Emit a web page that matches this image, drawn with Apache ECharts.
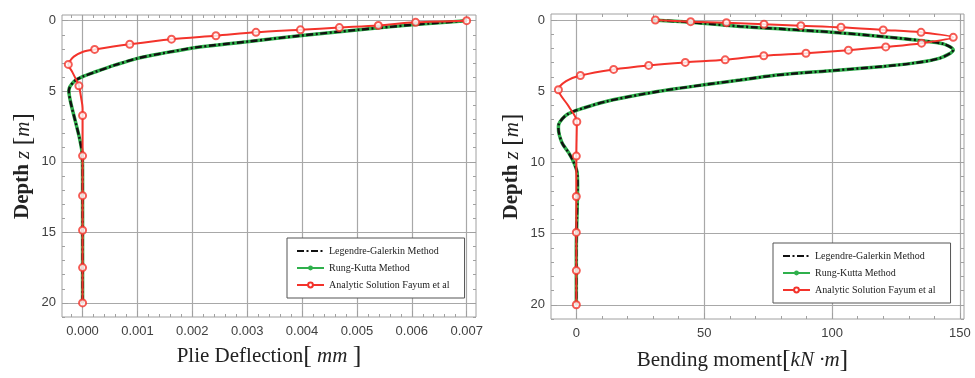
<!DOCTYPE html>
<html>
<head>
<meta charset="utf-8">
<script src="https://cdn.jsdelivr.net/npm/echarts@6/dist/echarts.min.js"></script>
<style>
  html, body { margin: 0; padding: 0; background: #fff; }
  #chart { width: 975px; height: 378px; }
</style>
</head>
<body>
<div id="chart"></div>
<script>
// ---- left panel: pile deflection vs depth ----
// [deflection (mm), depth z (m)]
const defLG = [[0.007,0],[0.006,0.3],[0.005,0.66],[0.004,1.05],[0.003,1.49],[0.0021,1.88],[0.00145,2.32],[0.001,2.67],[0.0006,3.14],[0.00024,3.62],[0,3.97],[-0.00016,4.33],[-0.00025,4.95],[-0.00022,5.74],[-0.00013,7.16],[-0.000055,8.35],[-0.000006,9.5],[0,11],[0,15],[0,20]];
const defRK = [[0.007,0],[0.006,0.3],[0.005,0.66],[0.004,1.05],[0.003,1.49],[0.0021,1.88],[0.00145,2.32],[0.001,2.67],[0.0006,3.14],[0.00024,3.62],[0,3.97],[-0.00016,4.33],[-0.00025,4.95],[-0.00022,5.74],[-0.00013,7.16],[-0.000055,8.35],[-0.000006,9.5],[0,11],[0,15],[0,20]];
const defFayum = [[0.007,0],[0.00607,0.12],[0.00539,0.34],[0.00468,0.49],[0.00397,0.65],[0.00316,0.83],[0.00243,1.07],[0.00162,1.31],[0.00086,1.67],[0.00022,2.04],[0.00001,2.2],[-0.00016,2.55],[-0.00024,2.91],[-0.00026,3.1],[-0.00019,3.62],[-0.000115,4.2],[-0.000067,4.62],[-0.000025,5.5],[0,6.2],[0,6.72],[0,20]];
const defFayumMarks = [[0.007,0],[0.00607,0.12],[0.00539,0.34],[0.00468,0.49],[0.00397,0.65],[0.00316,0.83],[0.00243,1.07],[0.00162,1.31],[0.00086,1.67],[0.00022,2.04],[-0.00026,3.1],[-0.000067,4.62],[0,6.72],[0,9.58],[0,12.4],[0,14.85],[0,17.5],[0,20]];

// ---- right panel: bending moment vs depth ----
// [moment (kN·m), depth z (m)]
const momLG = [[30,0],[44.5,0.16],[64,0.45],[82,0.65],[100,0.86],[120,1.17],[134.8,1.45],[143.5,1.68],[147.4,2.1],[142.2,2.68],[131.8,3.03],[120,3.26],[101,3.54],[77,3.9],[64,4.22],[50,4.55],[38,4.85],[25,5.24],[12,5.71],[2.9,6.18],[-3.6,6.64],[-6.9,7.34],[-7,7.6],[-5.6,8.62],[-3,9.32],[-1,10],[0.3,10.7],[0.5,11.65],[0.26,13.75],[0,16],[0,20]];
const momRK = [[30,0],[44.5,0.16],[64,0.45],[82,0.65],[100,0.86],[120,1.17],[134.8,1.45],[143.5,1.68],[147.4,2.1],[142.2,2.68],[131.8,3.03],[120,3.26],[101,3.54],[77,3.9],[64,4.22],[50,4.55],[38,4.85],[25,5.24],[12,5.71],[2.9,6.18],[-3.6,6.64],[-6.9,7.34],[-7,7.6],[-5.6,8.62],[-3,9.32],[-1,10],[0.3,10.7],[0.5,11.65],[0.26,13.75],[0,16],[0,20]];
const momFayum = [[30.9,0],[44.7,0.12],[58.7,0.19],[73.4,0.3],[87.8,0.4],[103.5,0.51],[120,0.7],[134.8,0.87],[147.4,1.22],[135,1.63],[121,1.89],[106.4,2.12],[89.8,2.34],[73.3,2.51],[58.2,2.8],[42.6,2.98],[28.3,3.19],[14.6,3.47],[1.6,3.9],[-4,4.3],[-7,4.9],[-3,6.06],[0.2,7.15],[0,9.56],[0,20]];
const momFayumMarks = [[30.9,0],[44.7,0.12],[58.7,0.19],[73.4,0.3],[87.8,0.4],[103.5,0.51],[120,0.7],[134.8,0.87],[147.4,1.22],[135,1.63],[121,1.89],[106.4,2.12],[89.8,2.34],[73.3,2.51],[58.2,2.8],[42.6,2.98],[28.3,3.19],[14.6,3.47],[1.6,3.9],[-7,4.9],[0.2,7.15],[0,9.56],[0,12.4],[0,14.92],[0,17.6],[0,20]];

// ---- ticks ----
const defTicks = [0,0.001,0.002,0.003,0.004,0.005,0.006,0.007];
const defTickLabels = ['0.000','0.001','0.002','0.003','0.004','0.005','0.006','0.007'];
const momTicks = [0,50,100,150];
const momTickLabels = ['0','50','100','150'];
const depthTicks = [0,5,10,15,20];
const depthTickLabels = ['0','5','10','15','20'];

const legendNames = ['Legendre-Galerkin Method','Rung-Kutta Method','Analytic Solution Fayum et al'];

const GRAY = '#a0a0a0';
const RED = '#f3332b';
const GREEN = '#2fb04c';

function minors(lo, hi, step, majors) {
  const out = [];
  for (let i = Math.ceil(lo / step); i * step <= hi; i++) {
    const v = Math.round(i * step * 1e6) / 1e6;
    if (!majors.some(m => Math.abs(m - v) < step / 10)) out.push(v);
  }
  return out;
}

function labelFor(ticks, labels) {
  return v => {
    const i = ticks.findIndex(t => Math.abs(t - v) < 1e-9);
    return i < 0 ? '' : labels[i];
  };
}

const tickFont = { fontFamily: 'Liberation Sans', fontSize: 13, color: '#404040' };
const titleRich = {
  t: { fontFamily: 'Liberation Serif', fontSize: 21, color: '#222' },
  tb: { fontFamily: 'Liberation Serif', fontSize: 21, fontWeight: 'bold', color: '#222' },
  i: { fontFamily: 'Liberation Serif', fontSize: 21, fontStyle: 'italic', color: '#222' },
  b: { fontFamily: 'Liberation Serif', fontSize: 26, color: '#222' }
};

// four axes per side: labelled major, minor, opposite major, opposite minor
function axisSet(dim, g, min, max, majors, minorVals, fmt, name, nameGap, inverse, namePad) {
  const pos = dim === 'x' ? ['bottom', 'top'] : ['left', 'right'];
  const base = {
    type: 'value', gridIndex: g, min: min, max: max, inverse: !!inverse,
    axisLine: { show: false, onZero: false }, splitLine: { show: false }, axisLabel: { show: false }
  };
  const tick = (vals, len) => ({ show: true, inside: true, length: len, customValues: vals, lineStyle: { color: GRAY, width: 1 } });
  return [
    Object.assign({}, base, {
      position: pos[0], name: name, nameLocation: 'middle', nameGap: nameGap,
      nameRotate: dim === 'y' ? 90 : 0,
      nameTextStyle: { rich: titleRich, padding: namePad || 0 },
      axisTick: tick(majors, 6),
      axisLabel: Object.assign({ show: true, customValues: majors, formatter: fmt, margin: dim === 'x' ? 8 : 6 }, tickFont),
      splitLine: { show: true, lineStyle: { color: '#a8a8a8', width: 1.2 } }
    }),
    Object.assign({}, base, { position: pos[0], axisTick: tick(minorVals, 3) }),
    Object.assign({}, base, { position: pos[1], axisTick: tick(majors, 6) }),
    Object.assign({}, base, { position: pos[1], axisTick: tick(minorVals, 3) })
  ];
}

const depthMinor = minors(0, 21, 1, depthTicks);

const xAxis = [].concat(
  axisSet('x', 0, -0.000375, 0.00717, defTicks, minors(-0.000375, 0.00717, 0.0002, defTicks),
    labelFor(defTicks, defTickLabels), '{t|Plie Deflection}{b|[}{i| mm }{b|]}', 26),
  axisSet('x', 1, -9.9, 151.6, momTicks, minors(-9.9, 151.6, 10, momTicks),
    labelFor(momTicks, momTickLabels), '{t|Bending moment}{b|[}{i|kN ·m}{b|]}', 28, false, [0, 30, 0, 0])
);
const yAxis = [].concat(
  axisSet('y', 0, -0.4, 21, depthTicks, depthMinor, labelFor(depthTicks, depthTickLabels),
    '{tb|Depth }{i|z}{tb| }{b|[}{i|m}{b|]}', 26, true),
  axisSet('y', 1, -0.42, 21, depthTicks, depthMinor, labelFor(depthTicks, depthTickLabels),
    '{tb|Depth }{i|z}{tb| }{b|[}{i|m}{b|]}', 26, true)
);

function panelSeries(g, lg, rk, fay, marks) {
  const ax = { xAxisIndex: g * 4, yAxisIndex: g * 4 };
  return [
    Object.assign({
      name: legendNames[1], type: 'line', data: rk, smooth: 0.3,
      symbol: 'circle', symbolSize: 3, showSymbol: false,
      itemStyle: { color: GREEN }, lineStyle: { color: GREEN, width: 3.5 }
    }, ax),
    Object.assign({
      name: legendNames[0], type: 'line', data: lg, smooth: 0.3, symbol: 'none',
      itemStyle: { color: '#111' }, lineStyle: { color: '#111', width: 2.4, type: [7, 2.5, 2, 2.5] }
    }, ax),
    Object.assign({
      name: legendNames[2], type: 'line', data: fay, smooth: 0.3,
      symbol: 'emptyCircle', symbolSize: 6, showSymbol: false,
      itemStyle: { color: RED, borderWidth: 1.5 }, lineStyle: { color: RED, width: 2 }
    }, ax),
    Object.assign({
      name: 'marks', type: 'scatter', data: marks, symbol: 'emptyCircle', symbolSize: 7,
      itemStyle: { color: RED, borderColor: RED, borderWidth: 1.7 }, z: 5
    }, ax)
  ];
}

function legendAt(left, top) {
  return {
    data: [
      { name: legendNames[0], itemStyle: { opacity: 0 } },
      { name: legendNames[1] },
      { name: legendNames[2] }
    ],
    orient: 'vertical', left: left, top: top,
    itemWidth: 27, itemHeight: 6, itemGap: 7,
    padding: [8, 15, 8, 9], borderColor: '#555', borderWidth: 1, backgroundColor: '#fff',
    textStyle: { fontFamily: 'Liberation Serif', fontSize: 10, color: '#222', lineHeight: 10 },
    selectedMode: false
  };
}

const chart = echarts.init(document.getElementById('chart'), null, { renderer: 'canvas' });
chart.setOption({
  animation: false,
  backgroundColor: '#fff',
  grid: [
    { left: 62, top: 15, width: 414, height: 302, show: true, borderColor: GRAY, borderWidth: 1, backgroundColor: 'transparent' },
    { left: 551, top: 14, width: 413, height: 306, show: true, borderColor: GRAY, borderWidth: 1, backgroundColor: 'transparent' }
  ],
  legend: [legendAt(287, 238), legendAt(773, 243)],
  xAxis: xAxis,
  yAxis: yAxis,
  series: [].concat(
    panelSeries(0, defLG, defRK, defFayum, defFayumMarks),
    panelSeries(1, momLG, momRK, momFayum, momFayumMarks)
  )
});
</script>
</body>
</html>
